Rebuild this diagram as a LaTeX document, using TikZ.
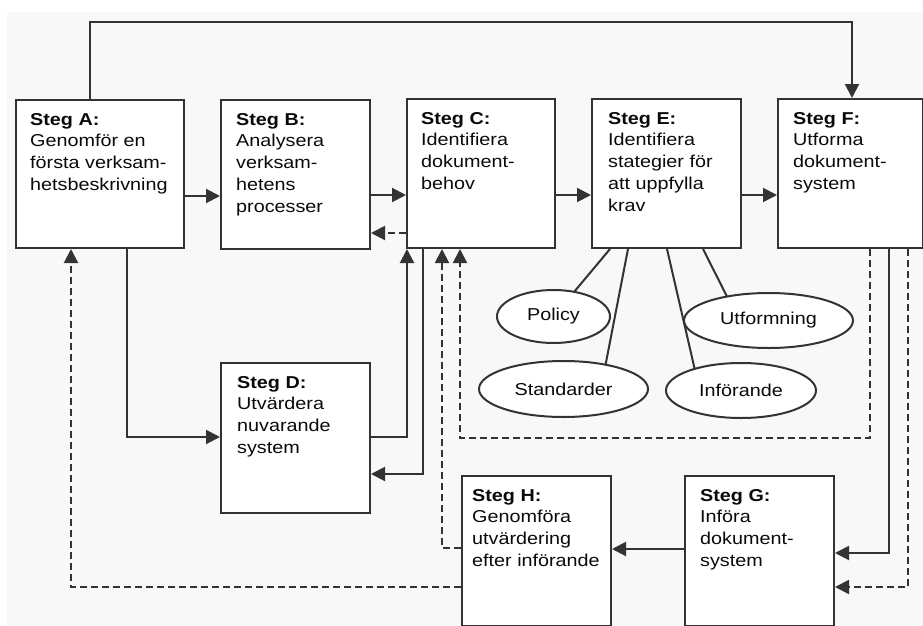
\documentclass[tikz,border=0pt]{standalone}
\usepackage{fontspec}
\setmainfont{Liberation Sans}[FakeStretch=1.15]
\usetikzlibrary{arrows.meta,shapes.geometric,calc}
\definecolor{linec}{HTML}{333333}
\definecolor{textc}{HTML}{0A0A0A}
\definecolor{bgc}{HTML}{F8F8F8}
\tikzset{
  box/.style={draw=linec, line width=2pt, fill=white, rectangle, inner sep=0pt, anchor=north west},
  lbl/.style={anchor=north west, inner sep=0pt, align=left, text=textc,
    font=\fontsize{17.2}{21.7}\selectfont},
  oval/.style={draw=linec, line width=2pt, fill=white, ellipse, inner sep=0pt, outer sep=0pt,
    text=textc, font=\fontsize{17.2}{20}\selectfont},
  conn/.style={draw=linec, line width=2pt},
  arr/.style={conn, -{Triangle[length=14pt,width=14pt]}},
  darr/.style={arr, dash pattern=on 7pt off 4pt},
}
\begin{document}
\begin{tikzpicture}[x=1pt,y=-1pt]
\useasboundingbox (0,0) rectangle (923,626);
\fill[white] (0,0) rectangle (923,626);
\fill[bgc] (7,12) rectangle (923,626);

% boxes
\node[box, minimum width=168pt, minimum height=148pt] (A) at (15,99) {};
\node[box, minimum width=149pt, minimum height=149pt] (B) at (220,99) {};
\node[box, minimum width=148pt, minimum height=149pt] (C) at (406,98) {};
\node[box, minimum width=149pt, minimum height=149pt] (E) at (591,98) {};
\node[box, minimum width=145pt, minimum height=149pt] (F) at (777,98) {};
\node[box, minimum width=149pt, minimum height=150pt] (D) at (220,362) {};
\node[box, minimum width=149pt, minimum height=150pt] (H) at (461,475) {};
\node[box, minimum width=149pt, minimum height=150pt] (G) at (684,475) {};

% labels
\node[lbl] (At) at ($(A.north west)+(15,13)$) {\rule{0pt}{13pt}\textbf{Steg A:}\\Genomför en\\första verksam-\\hetsbeskrivning};
\node[lbl] (Bt) at ($(B.north west)+(16,13)$) {\rule{0pt}{13pt}\textbf{Steg B:}\\Analysera\\verksam-\\hetens\\processer};
\node[lbl] (Ct) at ($(C.north west)+(15,13)$) {\rule{0pt}{13pt}\textbf{Steg C:}\\Identifiera\\dokument-\\behov};
\node[lbl] (Et) at ($(E.north west)+(17,13)$) {\rule{0pt}{13pt}\textbf{Steg E:}\\Identifiera\\stategier för\\att uppfylla\\krav};
\node[lbl] (Ft) at ($(F.north west)+(16,13)$) {\rule{0pt}{13pt}\textbf{Steg F:}\\Utforma\\dokument-\\system};
\node[lbl] (Dt) at ($(D.north west)+(17,13)$) {\rule{0pt}{13pt}\textbf{Steg D:}\\Utvärdera\\nuvarande\\system};
\node[lbl] (Ht) at ($(H.north west)+(11,13)$) {\rule{0pt}{13pt}\textbf{Steg H:}\\Genomföra\\utvärdering\\efter införande};
\node[lbl] (Gt) at ($(G.north west)+(16,13)$) {\rule{0pt}{13pt}\textbf{Steg G:}\\Införa\\dokument-\\system};

% ellipses
\node[oval, minimum width=113pt, minimum height=53pt] (pol) at (553.5,316.5) {Policy};
\node[oval, minimum width=169pt, minimum height=55pt] (utf) at (768.5,320.5) {Utformning};
\node[oval, minimum width=169pt, minimum height=56pt] (std) at (563.5,389) {Standarder};
\node[oval, minimum width=150pt, minimum height=55pt] (inf) at (741,390.5) {Införande};

% lines from E to ellipses
\draw[conn] (610,0 |- E.south) -- (pol);
\draw[conn] (628,0 |- E.south) -- (std.30);
\draw[conn] (667,0 |- E.south) -- (inf.155);
\draw[conn] (703,0 |- E.south) -- (utf.150);

% connectors
\draw[arr] (89.5,0 |- A.north) -- (89.5,22) -- (852,22) -- (852,0 |- F.north);
\draw[arr] (A.east |- 0,196) -- (B.west |- 0,196);
\draw[arr] (B.east |- 0,195) -- (C.west |- 0,195);
\draw[darr] (C.west |- 0,233) -- (B.east |- 0,233);
\draw[arr] (C.east |- 0,195) -- (E.west |- 0,195);
\draw[arr] (E.east |- 0,195) -- (F.west |- 0,195);
\draw[arr] (127,0 |- A.south) |- (D.west |- 0,437);
\draw[arr] (D.east |- 0,437) -| (407,0 |- C.south);
\draw[arr] (423,0 |- C.south) |- (D.east |- 0,474);
\draw[darr] (H.west |- 0,548) -| (442,0 |- C.south);
\draw[darr] (870,0 |- F.south) |- (460,438) -- (460,0 |- C.south);
\draw[darr] (H.west |- 0,587) -| (71,0 |- A.south);
\draw[arr] (G.west |- 0,549) -- (H.east |- 0,549);
\draw[arr] (889,0 |- F.south) |- (G.east |- 0,553);
\draw[darr] (908,0 |- F.south) |- (G.east |- 0,587);
\end{tikzpicture}
\end{document}
